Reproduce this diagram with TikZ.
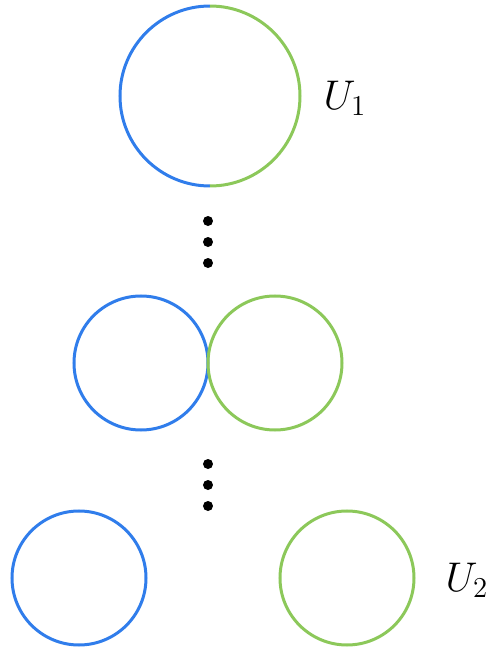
\documentclass[tikz,border=0pt]{standalone}
\usepackage{amsmath}
\usepackage{xcolor}
\usepackage{tikz}
\usetikzlibrary{positioning}
\definecolor{ublue}{RGB}{48,125,235}
\definecolor{ugreen}{RGB}{140,200,90}

\begin{document}
\begin{tikzpicture}[x=0.5pt, y=0.5pt, line width=1.5pt, every node/.style={font=\huge}]
    \useasboundingbox (0,0) rectangle (491,650);
    % top circle, split in two halves
    \coordinate (topc) at (210,554);
    \draw[ublue] (210,644) arc[start angle=90, end angle=270, radius=90];
    \draw[ugreen] (210,464) arc[start angle=270, end angle=450, radius=90];
    \node (u1) at (345,552) {$U_1$};
    \foreach \y in {429,408,387} \fill (208,\y) circle[radius=5];
    % touching circles
    \draw[ublue] (141,287) circle[radius=67];
    \draw[ugreen] (275,287) circle[radius=67];
    \foreach \y in {186,165,144} \fill (208,\y) circle[radius=5];
    % separated circles
    \draw[ublue] (79,72) circle[radius=67];
    \draw[ugreen] (347,72) circle[radius=67];
    \node (u2) at (467,70) {$U_2$};
  \end{tikzpicture}
\end{document}
